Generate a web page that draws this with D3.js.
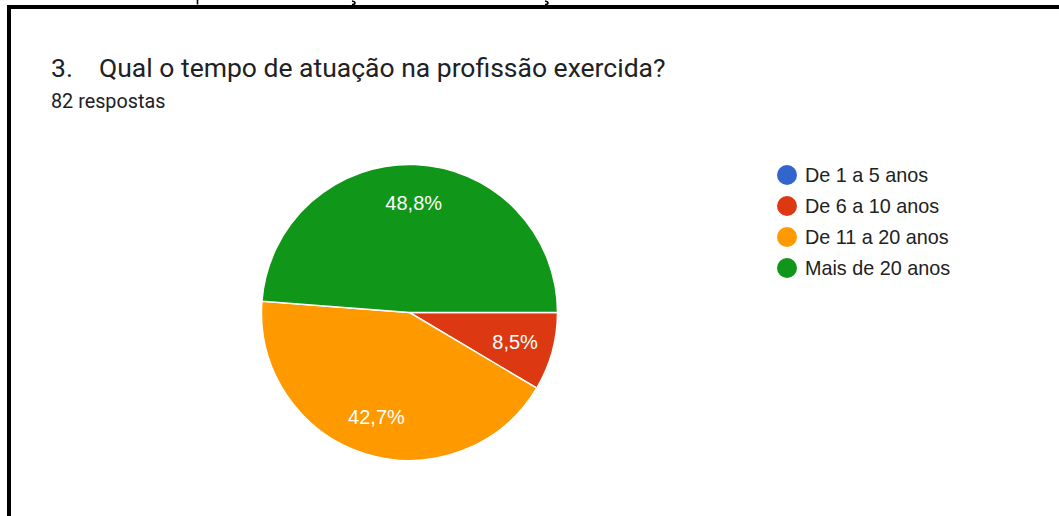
<!DOCTYPE html>
<html>
<head>
<meta charset="utf-8">
<script src="https://cdn.jsdelivr.net/npm/d3@7"></script>
<style>
  html, body { margin: 0; padding: 0; background: #fff; }
  svg { display: block; }
</style>
</head>
<body>
<svg id="chart" width="1059" height="516"></svg>
<script>
const categories = ["De 1 a 5 anos", "De 6 a 10 anos", "De 11 a 20 anos", "Mais de 20 anos"];
const counts = [0, 7, 35, 40];
const percentLabels = ["0%", "8,5%", "42,7%", "48,8%"];
const colors = ["#3366cc", "#dc3912", "#ff9900", "#109618"];
const titleNumber = "3.";
const titleText = "Qual o tempo de atuação na profissão exercida?";
const subtitle = "82 respostas";

const svg = d3.select("#chart");
svg.append("rect").attr("width", 1059).attr("height", 516).attr("fill", "#fff");

// descender fragments of a heading cropped above the frame
svg.append("path")
  .attr("d", "M197.5,0 V4.5 M352,1 q3,0.5 3,2 q0,1.5 -3,1.5 M545,1 q3,0.5 3,2 q0,1.5 -3,1.5")
  .attr("fill", "none").attr("stroke", "#000").attr("stroke-width", 1.6);

// frame
svg.append("path").attr("d", "M9,516 V7 H1059").attr("fill", "none")
  .attr("stroke", "#000").attr("stroke-width", 4);

// title
svg.append("text").attr("x", 51).attr("y", 77)
  .attr("font-family", "Roboto, sans-serif").attr("font-size", 26.5).attr("fill", "#202124")
  .text(titleNumber);
svg.append("text").attr("x", 99).attr("y", 77)
  .attr("font-family", "Roboto, sans-serif").attr("font-size", 26.5).attr("fill", "#202124")
  .text(titleText);
svg.append("text").attr("x", 51).attr("y", 108)
  .attr("font-family", "Roboto, sans-serif").attr("font-size", 19.8).attr("fill", "#202124")
  .text(subtitle);

// pie
const cx = 409.5, cy = 312.5, r = 148;
const pie = d3.pie().sort(null).value(d => d)
  .startAngle(Math.PI / 2).endAngle(Math.PI / 2 + 2 * Math.PI);
const arcs = pie(counts);
const arc = d3.arc().innerRadius(0).outerRadius(r);
const labelArc = d3.arc().innerRadius(r * 0.74).outerRadius(r * 0.74);
const g = svg.append("g").attr("transform", `translate(${cx},${cy})`);
g.selectAll("path").data(arcs).join("path")
  .attr("d", arc).attr("fill", (d, i) => colors[i])
  .attr("stroke", "#fff").attr("stroke-width", d => d.value > 0 ? 1.5 : 0);
g.selectAll("text").data(arcs.filter(d => d.value > 0)).join("text")
  .attr("transform", d => `translate(${labelArc.centroid(d)})`)
  .attr("text-anchor", "middle").attr("dy", "0.35em")
  .attr("font-family", "Liberation Sans, Arial, sans-serif").attr("font-size", 20)
  .attr("fill", "#fff")
  .text(d => percentLabels[d.index]);

// legend
const leg = svg.append("g").attr("transform", "translate(787,175)");
const items = leg.selectAll("g").data(categories).join("g")
  .attr("transform", (d, i) => `translate(0,${i * 31})`);
items.append("circle").attr("r", 10).attr("fill", (d, i) => colors[i]);
items.append("text").attr("x", 18).attr("dy", "0.35em")
  .attr("font-family", "Liberation Sans, Arial, sans-serif").attr("font-size", 19.8)
  .attr("fill", "#222").text(d => d);
</script>
</body>
</html>
